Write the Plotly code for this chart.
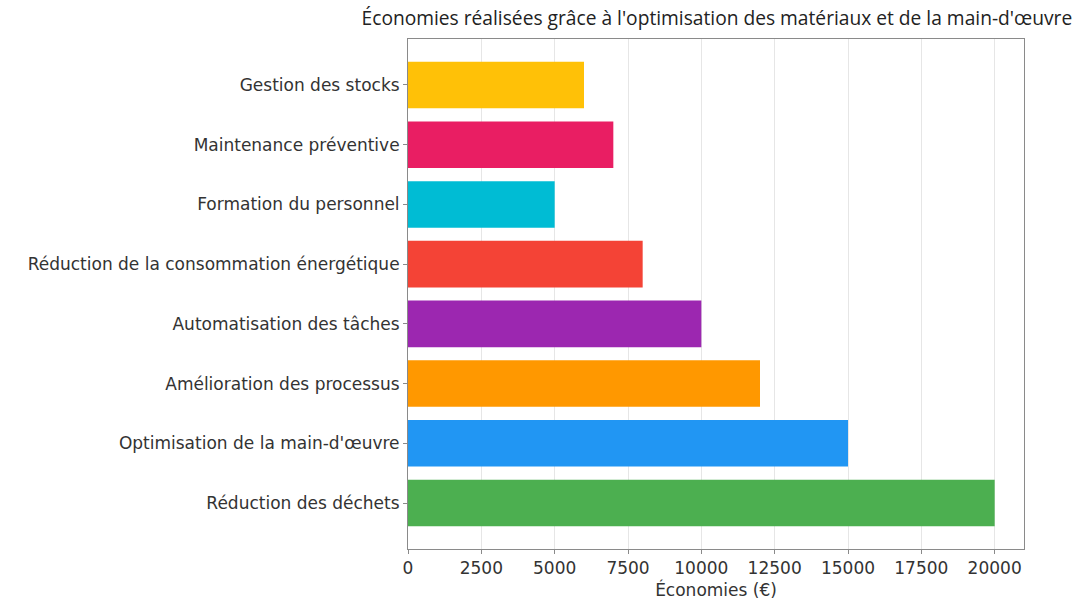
import plotly.graph_objects as go

categories = [
    "Réduction des déchets",
    "Optimisation de la main-d'œuvre",
    "Amélioration des processus",
    "Automatisation des tâches",
    "Réduction de la consommation énergétique",
    "Formation du personnel",
    "Maintenance préventive",
    "Gestion des stocks",
]
savings = [20000, 15000, 12000, 10000, 8000, 5000, 7000, 6000]
bar_colors = ["#4CAF50", "#2196F3", "#FF9800", "#9C27B0",
              "#F44336", "#00BCD4", "#E91E63", "#FFC107"]
x_ticks = [0, 2500, 5000, 7500, 10000, 12500, 15000, 17500, 20000]

fig = go.Figure(go.Bar(
    y=categories,
    x=savings,
    orientation="h",
    marker=dict(color=bar_colors, line=dict(width=0)),
    width=0.78,
))

axis_font = dict(family="DejaVu Sans", size=17, color="#333333")

fig.update_layout(
    width=1078, height=602,
    margin=dict(l=408, r=54, t=39, b=53),
    paper_bgcolor="white",
    plot_bgcolor="white",
    showlegend=False,
    title=dict(
        text="Économies réalisées grâce à l'optimisation des matériaux et de la main-d'œuvre",
        x=0.665, xanchor="center", y=0.97, yanchor="middle",
        font=dict(family="Open Sans", size=19.2, color="#222222"),
    ),
    xaxis=dict(
        range=[0, 21000],
        tickvals=x_ticks,
        ticktext=[str(v) for v in x_ticks],
        showgrid=True, gridcolor="#e6e6e6", gridwidth=1,
        zeroline=False,
        showline=True, linecolor="#8a8a8a", linewidth=1, mirror=True,
        ticks="outside", ticklen=4, tickcolor="#8a8a8a",
        tickfont=axis_font,
        automargin=False,
        title=dict(text="Économies (€)", font=axis_font, standoff=6),
    ),
    yaxis=dict(
        range=[-0.77, 7.77],
        showgrid=False, zeroline=False,
        showline=True, linecolor="#8a8a8a", linewidth=1, mirror=True,
        ticks="outside", ticklen=4, tickcolor="#8a8a8a",
        tickfont=axis_font,
        automargin=False,
    ),
)

fig.write_html("out.html")
